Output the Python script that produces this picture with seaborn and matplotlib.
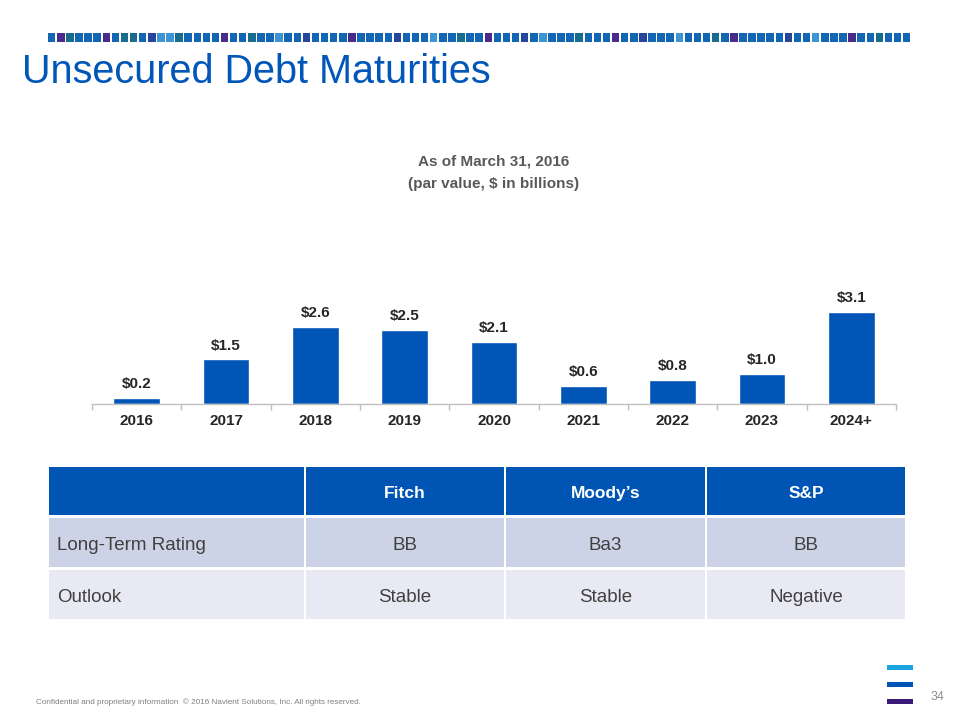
import matplotlib
matplotlib.use("Agg")
import matplotlib.pyplot as plt
import seaborn as sns
import pandas as pd
from matplotlib.patches import Rectangle

# ---------------- data ----------------
years = ["2016", "2017", "2018", "2019", "2020", "2021", "2022", "2023", "2024+"]
maturities = [0.2, 1.5, 2.6, 2.5, 2.1, 0.6, 0.8, 1.0, 3.1]

table_header = ["", "Fitch", "Moody\u2019s", "S&P"]
row_labels = ["Long-Term Rating", "Outlook"]
fitch = ["BB", "Stable"]
moodys = ["Ba3", "Stable"]
sp = ["BB", "Negative"]

title = "Unsecured Debt Maturities"
subtitle = ["As of March 31, 2016", "(par value, $ in billions)"]
footer = "Confidential and proprietary information  \u00a9 2016 Navient Solutions, Inc. All rights reserved."
page_no = "34"

# ---------------- style ----------------
sns.set_theme(style="white")
plt.rcParams["font.family"] = ["Liberation Sans", "DejaVu Sans"]

BLUE = "#0055B7"
W, H = 960, 720
fig = plt.figure(figsize=(9.6, 7.2), dpi=100)
fig.patch.set_facecolor("white")

# overlay axes in pixel coordinates
ov = fig.add_axes([0, 0, 1, 1])
ov.set_xlim(0, W)
ov.set_ylim(H, 0)
ov.axis("off")

# decorative stripe of squares
stripe_pattern = "BPTBBBPBTTBNLLTBBBBPBBTBBLBBNBBBBPBBBBNBBBLBBTBBPBBBNBLBBBTBBBPBBNBBBLBBBTBPBBBBBNBBLBBBPBBTBBB"
stripe_colors = {"B": "#1266B4", "P": "#4A2B8C", "T": "#1A6C8E", "N": "#26469C", "L": "#3E95D4"}
x0, x1 = 48, 912
n = 95
step = (x1 - x0) / n
for i in range(n):
    c = stripe_colors[stripe_pattern[i % len(stripe_pattern)]]
    ov.add_patch(Rectangle((x0 + i * step, 33), step - 1.6, 9, color=c, lw=0))

# title
ov.text(22, 72, title, color="#0057B8", fontsize=28.5, va="center", ha="left")

# subtitle
ov.text(494, 162, subtitle[0], color="#595959", fontsize=11, fontweight="bold", ha="center", va="center")
ov.text(494, 184, subtitle[1], color="#595959", fontsize=11, fontweight="bold", ha="center", va="center")

# ---------------- bar chart ----------------
ax = fig.add_axes([92 / W, (H - 404) / H, (896 - 92) / W, 125 / H])
df = pd.DataFrame({"year": years, "value": maturities})
sns.barplot(data=df, x="year", y="value", color=BLUE, width=0.52, ax=ax, saturation=1)
ax.set_ylim(0, 125 / 29.7)
ax.set_xlim(-0.5, len(years) - 0.5)
ax.set_xlabel("")
ax.set_ylabel("")
ax.set_yticks([])
for s in ["top", "right", "left"]:
    ax.spines[s].set_visible(False)
ax.spines["bottom"].set_color("#BFBFBF")
ax.spines["bottom"].set_linewidth(1.0)
ax.set_xticks(range(len(years)))
ax.set_xticklabels(years, fontsize=11, fontweight="bold", color="#262626")
ax.tick_params(axis="x", which="major", length=0, pad=7)
ax.set_xticks([i - 0.5 for i in range(len(years) + 1)], minor=True)
ax.tick_params(axis="x", which="minor", length=4, color="#BFBFBF", direction="out", width=1)
ax.xaxis.set_tick_params(which="minor", bottom=True)
ax.bar_label(ax.containers[0], labels=[f"${v:.1f}" for v in maturities], padding=5,
             fontsize=11, fontweight="bold", color="#262626")
ax.patch.set_alpha(0)

# ---------------- ratings table ----------------
col_edges = [48, 305, 505, 706, 906]
row_edges = [(467, 515), (518, 567), (570, 619)]
row_colors = ["#0054B4", "#CDD3E6", "#E8E9F3"]
body = [[row_labels[r], fitch[r], moodys[r], sp[r]] for r in range(len(row_labels))]
rows = [table_header] + body
for r, (ya, yb) in enumerate(row_edges):
    for c in range(4):
        xa, xb = col_edges[c], col_edges[c + 1]
        ov.add_patch(Rectangle((xa + 1, ya), xb - xa - 2, yb - ya, color=row_colors[r], lw=0))
        txt = rows[r][c]
        if not txt:
            continue
        ym = (ya + yb) / 2 + 1
        if r == 0:
            ov.text((xa + xb) / 2, ym, txt, color="white", fontsize=12.5,
                    fontweight="bold", ha="center", va="center_baseline")
        elif c == 0:
            ov.text(xa + 9, ym, txt, color="#404040", fontsize=13.5, ha="left", va="center_baseline")
        else:
            ov.text((xa + xb) / 2, ym, txt, color="#404040", fontsize=13.5,
                    ha="center", va="center_baseline")

# footer
ov.text(36, 702, footer, color="#808080", fontsize=5.9, ha="left", va="center")
ov.text(931, 697, page_no, color="#8C8C8C", fontsize=9, ha="left", va="center")

# logo bars
for y, c in [(667, "#1BA6E1"), (684, "#0055B7"), (701, "#3C1A78")]:
    ov.add_patch(Rectangle((887, y - 2), 26, 4.5, color=c, lw=0))

fig.savefig("out.png", dpi=100, facecolor="white")
